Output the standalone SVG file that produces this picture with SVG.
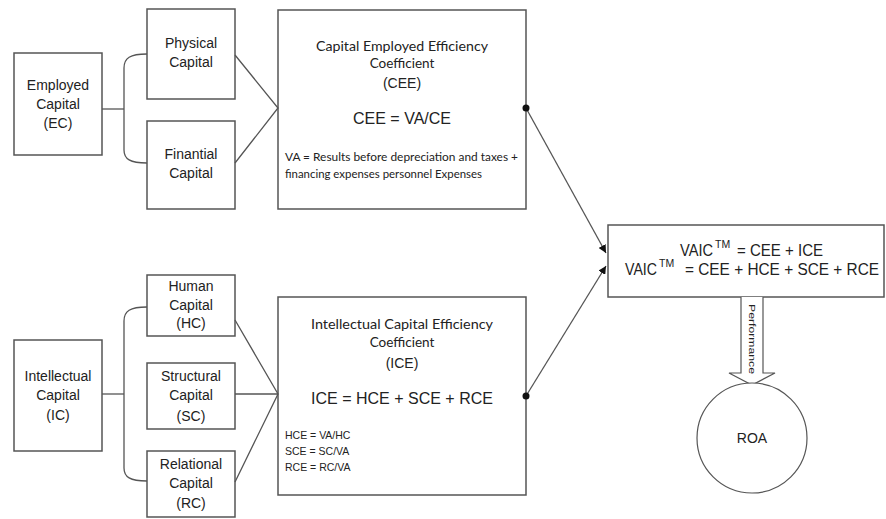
<svg xmlns="http://www.w3.org/2000/svg" width="886" height="519" viewBox="0 0 886 519">
<defs>
<style>
.box{fill:#fff;stroke:#555;stroke-width:1.5}
.ln{fill:none;stroke:#555;stroke-width:1.3}
.a{font-family:"Liberation Sans",Arial,sans-serif;font-size:14px;fill:#222;text-anchor:middle}
.c{font-family:Lato,"Noto Sans",sans-serif;font-size:13.5px;fill:#222;text-anchor:middle}
.s{font-family:Lato,"Noto Sans",sans-serif;font-size:11.3px;fill:#222}
.f{font-family:"Liberation Sans",Arial,sans-serif;font-size:16px;fill:#222}
.sm{font-family:"Liberation Sans",Arial,sans-serif;font-size:10.5px;fill:#222}
</style>
<marker id="ah" viewBox="0 0 10 10" refX="10" refY="5" markerWidth="8" markerHeight="8" markerUnits="userSpaceOnUse" orient="auto">
<path d="M0,0 L10,5 L0,10 z" fill="#111"/>
</marker>
</defs>
<rect width="886" height="519" fill="#fff"/>

<g id="ec">
<rect class="box" x="14" y="53" width="88" height="102"/>
<text class="a" x="58" y="90">Employed</text>
<text class="a" x="58" y="109">Capital</text>
<text class="a" x="58" y="128">(EC)</text>
</g>
<g id="physical">
<rect class="box" x="147" y="9" width="88" height="90"/>
<text class="a" x="191" y="48">Physical</text>
<text class="a" x="191" y="67">Capital</text>
</g>
<g id="financial">
<rect class="box" x="147" y="121" width="88" height="88"/>
<text class="a" x="191" y="159">Finantial</text>
<text class="a" x="191" y="178">Capital</text>
</g>
<g id="cee">
<rect class="box" x="278" y="10" width="248" height="199"/>
<text class="c" x="402" y="51" textLength="172" lengthAdjust="spacingAndGlyphs">Capital Employed Efficiency</text>
<text class="c" x="402" y="68">Coefficient</text>
<text class="a" x="402" y="88">(CEE)</text>
<text class="f" x="402" y="124" text-anchor="middle">CEE = VA/CE</text>
<text class="s" x="285" y="161" textLength="233" lengthAdjust="spacingAndGlyphs">VA = Results before depreciation and taxes +</text>
<text class="s" x="285" y="178" textLength="197" lengthAdjust="spacingAndGlyphs">financing expenses personnel Expenses</text>
</g>

<g id="ic">
<rect class="box" x="14" y="340" width="88" height="111"/>
<text class="a" x="58" y="381">Intellectual</text>
<text class="a" x="58" y="400">Capital</text>
<text class="a" x="58" y="420">(IC)</text>
</g>
<g id="human">
<rect class="box" x="147" y="275" width="88" height="61"/>
<text class="a" x="191" y="291">Human</text>
<text class="a" x="191" y="310">Capital</text>
<text class="a" x="191" y="328">(HC)</text>
</g>
<g id="structural">
<rect class="box" x="147" y="363" width="88" height="66"/>
<text class="a" x="191" y="381">Structural</text>
<text class="a" x="191" y="400">Capital</text>
<text class="a" x="191" y="421">(SC)</text>
</g>
<g id="relational">
<rect class="box" x="147" y="451" width="88" height="66"/>
<text class="a" x="191" y="469">Relational</text>
<text class="a" x="191" y="488">Capital</text>
<text class="a" x="191" y="508">(RC)</text>
</g>
<g id="ice">
<rect class="box" x="278" y="297" width="248" height="198"/>
<text class="c" x="402" y="329" textLength="182" lengthAdjust="spacingAndGlyphs">Intellectual Capital Efficiency</text>
<text class="c" x="402" y="347">Coefficient</text>
<text class="a" x="402" y="368">(ICE)</text>
<text class="f" x="402" y="404" text-anchor="middle">ICE = HCE + SCE + RCE</text>
<text class="sm" x="285" y="439">HCE = VA/HC</text>
<text class="sm" x="285" y="455">SCE = SC/VA</text>
<text class="sm" x="285" y="471">RCE = RC/VA</text>
</g>

<g id="vaic">
<rect class="box" x="608" y="225" width="276" height="72"/>
<text class="f" x="680" y="256" textLength="33" lengthAdjust="spacingAndGlyphs">VAIC</text>
<text class="sm" x="715" y="248" font-size="9.5">TM</text>
<text class="f" x="737" y="256" textLength="86" lengthAdjust="spacingAndGlyphs">= CEE + ICE</text>
<text class="f" x="625" y="275" textLength="32" lengthAdjust="spacingAndGlyphs">VAIC</text>
<text class="sm" x="659" y="267" font-size="9.5">TM</text>
<text class="f" x="685" y="275" textLength="194" lengthAdjust="spacingAndGlyphs">= CEE + HCE + SCE + RCE</text>
</g>

<g id="performance">
<path d="M741,297 V373 H729 L752,385 L775,373 H763 V297" fill="#fff" stroke="#555" stroke-width="1.2"/>
<text font-family="'Liberation Sans',Arial,sans-serif" font-size="9.5" fill="#222" text-anchor="middle" transform="translate(749,339) rotate(90)" textLength="70" lengthAdjust="spacingAndGlyphs">Performance</text>
</g>

<g id="roa">
<circle cx="752" cy="438" r="55" fill="#fff" stroke="#555" stroke-width="1.2"/>
<text class="a" x="752" y="443">ROA</text>
</g>

<g id="connectors">
<path class="ln" d="M102,109 H124"/>
<path class="ln" d="M147,54 C130,54 124,58 124,68 V150 C124,159 130,163 147,163"/>
<path class="ln" d="M235,55 L278,108 L235,163"/>
<path class="ln" d="M102,394 H124"/>
<path class="ln" d="M147,307 C130,307 124,311 124,321 V468 C124,477 130,481 147,481"/>
<path class="ln" d="M235,320 L278,394 L235,482 M235,394 H278"/>
<line class="ln" x1="526" y1="108" x2="606" y2="253" marker-end="url(#ah)"/>
<line class="ln" x1="526" y1="396" x2="606" y2="266" marker-end="url(#ah)"/>
<circle cx="526" cy="108" r="3.5" fill="#111"/>
<circle cx="526" cy="396" r="3.5" fill="#111"/>
</g>
</svg>
